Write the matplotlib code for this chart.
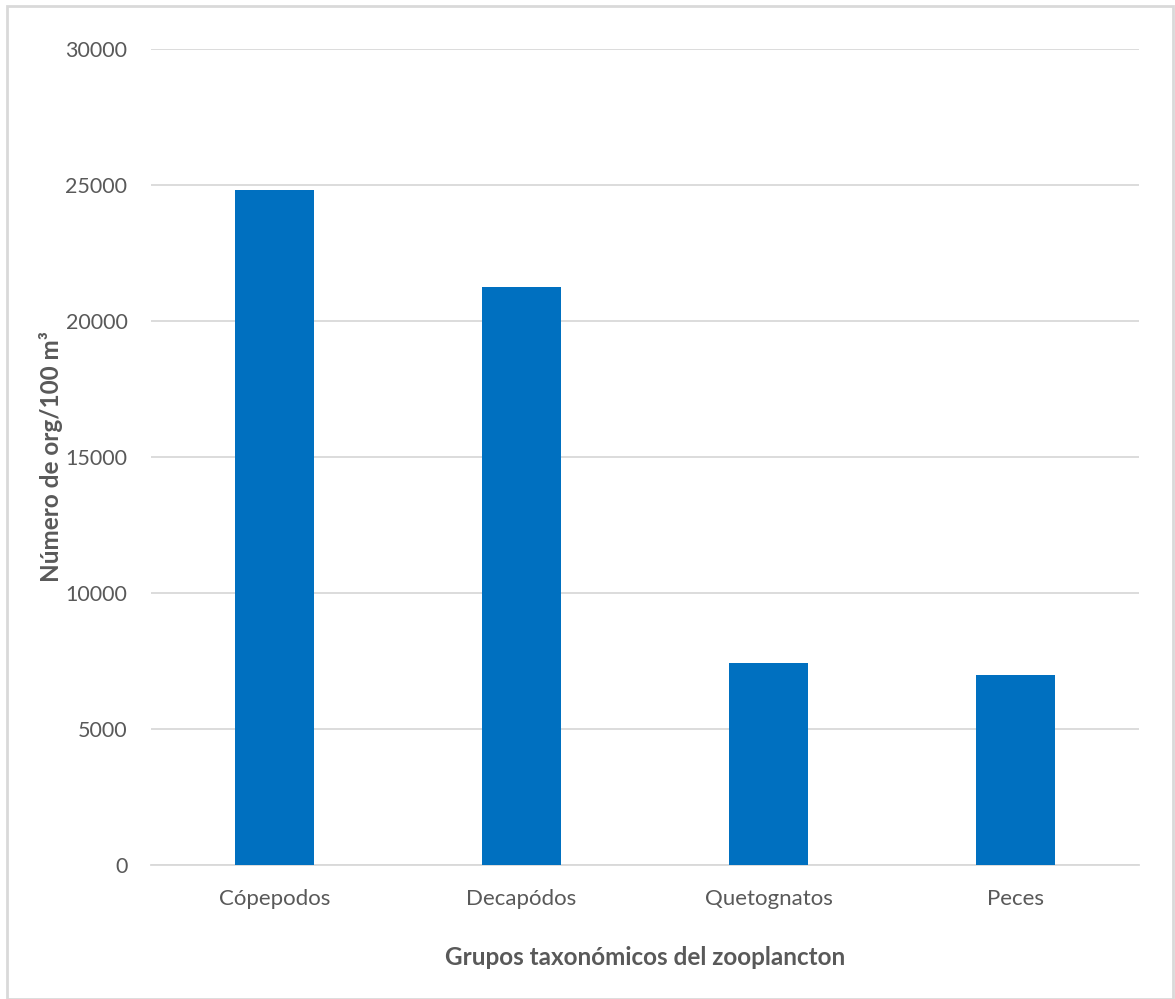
import numpy as np
import matplotlib
matplotlib.use('Agg')
import matplotlib.pyplot as plt
from matplotlib.patches import Rectangle

grupos = ['Cópepodos', 'Decapódos', 'Quetognatos', 'Peces']
valores = [24800, 21250, 7420, 6970]
yticks = [0, 5000, 10000, 15000, 20000, 25000, 30000]

plt.rcParams['font.family'] = ['Lato', 'DejaVu Sans']
txt = '#595959'

fig = plt.figure(figsize=(11.75, 9.99), dpi=100)
ax = fig.add_axes([151/1175, 1 - 865/999, (1139-151)/1175, (865-49)/999])

x = np.arange(len(grupos))
ax.bar(x, valores, width=0.316, color='#0070c0', zorder=3)

ax.set_xlim(-0.5, len(grupos) - 0.5)
ax.set_ylim(0, 30000)
ax.set_yticks(yticks)
ax.set_yticklabels([str(t) for t in yticks])
ax.set_xticks(x)
ax.set_xticklabels(grupos)
ax.tick_params(axis='both', length=0, labelcolor=txt)
ax.tick_params(axis='y', pad=17, labelsize=15.5)
ax.tick_params(axis='x', pad=17, labelsize=16)
ax.grid(axis='y', color='#d9d9d9', linewidth=1.3, zorder=0)
for s in ['top', 'right', 'left']:
    ax.spines[s].set_visible(False)
ax.spines['bottom'].set_color('#d9d9d9')
ax.spines['bottom'].set_linewidth(1.3)

ax.set_xlabel('Grupos taxonómicos del zooplancton', fontsize=17.5, fontweight='bold',
              color=txt, labelpad=27)
ax.set_ylabel('Número de org/100 m³', fontsize=17.5, fontweight='bold', color=txt,
              labelpad=2)

fig.patches.append(Rectangle((7/1175, 0), 1 - 7/1175 - 2/1175, 1 - 6/999,
                             transform=fig.transFigure, fill=False,
                             edgecolor='#d9d9d9', linewidth=2))

fig.savefig('out.png', dpi=100)
